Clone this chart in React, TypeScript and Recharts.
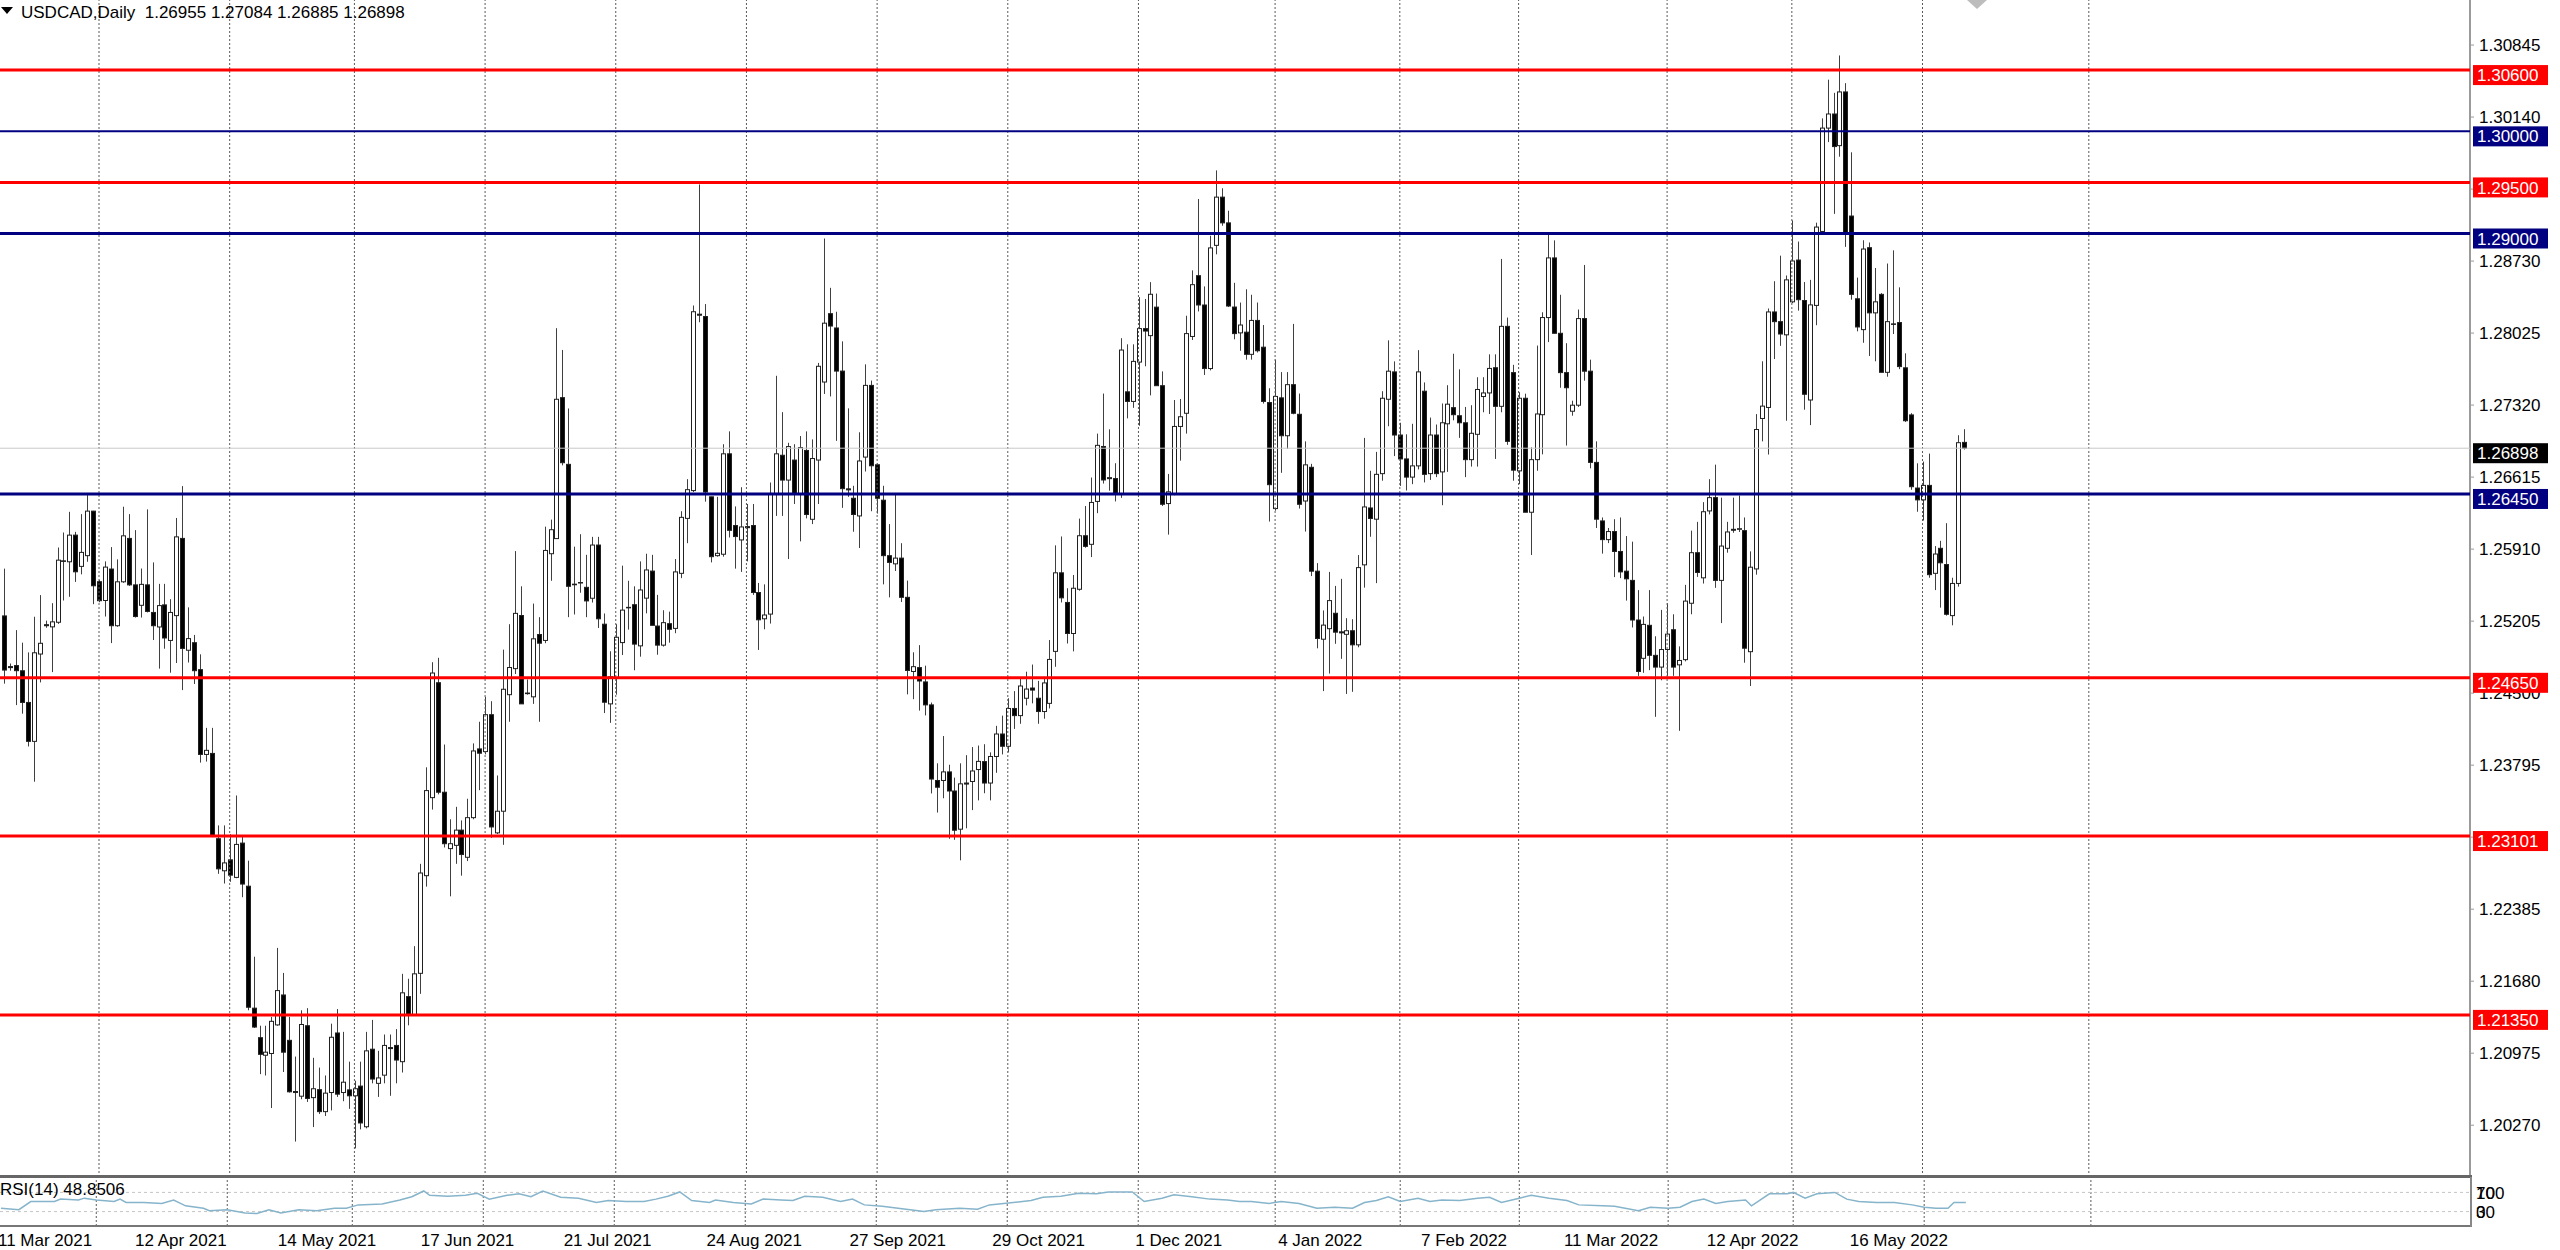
import React from 'react';
import { ComposedChart, Bar, Line, XAxis, YAxis, ReferenceLine } from 'recharts';

// USDCAD daily, bar 0 = 10 Mar 2021 ... bar 330 = 10 Jun 2022
const opens = [
  1.25256, 1.2476, 1.2477, 1.24719, 1.24409, 1.24028, 1.24883, 1.2517, 1.25149, 1.25194,
  1.25795, 1.25786, 1.26047, 1.25741, 1.25846, 1.26282, 1.25591, 1.25407, 1.25715, 1.2516,
  1.2559, 1.26015, 1.2556, 1.2536, 1.2556, 1.2529, 1.25148, 1.25364, 1.25016, 1.25259,
  1.26015, 1.2492, 1.24994, 1.2473, 1.239, 1.2391, 1.23075, 1.22761, 1.22868, 1.22696,
  1.23032, 1.2261, 1.21416, 1.21127, 1.20955, 1.20972, 1.21252, 1.21545, 1.21101, 1.206,
  1.20554, 1.21244, 1.2054, 1.20618, 1.20403, 1.2059, 1.21173, 1.2059, 1.20616, 1.20558,
  1.20653, 1.20255, 1.21014, 1.2068, 1.2076, 1.2103, 1.21051, 1.20892, 1.21529, 1.21354,
  1.21757, 1.22713, 1.23477, 1.24602, 1.2353, 1.22978, 1.2301, 1.23159, 1.22893, 1.23281,
  1.23954, 1.23928, 1.24289, 1.23132, 1.23344, 1.24485, 1.2474, 1.2526, 1.24501, 1.24464,
  1.25074, 1.25016, 1.25865, 1.26013, 1.27393, 1.2674, 1.25567, 1.25578, 1.25536, 1.25429,
  1.2595, 1.25175, 1.24395, 1.2465, 1.24995, 1.2534, 1.25366, 1.24963, 1.2543, 1.25695,
  1.25157, 1.2497, 1.2518, 1.25134, 1.25673, 1.26211, 1.26483, 1.2821, 1.28187, 1.26422,
  1.25846, 1.2586, 1.26843, 1.26141, 1.26, 1.2613, 1.26141, 1.25485, 1.25228, 1.25274,
  1.26455, 1.26829, 1.26586, 1.26782, 1.26445, 1.26876, 1.26202, 1.26782, 1.27546, 1.28215,
  1.28075, 1.27653, 1.265, 1.26408, 1.26235, 1.26811, 1.27513, 1.26736, 1.26389, 1.25846,
  1.25766, 1.25822, 1.25438, 1.24712, 1.2475, 1.2461, 1.24385, 1.23645, 1.23645, 1.23729,
  1.23542, 1.23168, 1.2362, 1.23635, 1.23752, 1.2383, 1.2362, 1.2388, 1.241, 1.2398,
  1.2435, 1.2428, 1.2445, 1.2455, 1.2445, 1.2432, 1.244, 1.24909, 1.25678, 1.25388,
  1.25084, 1.25517, 1.26041, 1.25957, 1.26377, 1.26915, 1.266, 1.26601, 1.26447, 1.2745,
  1.27356, 1.27741, 1.28069, 1.28, 1.28279, 1.2751, 1.26356, 1.26447, 1.27111, 1.2724,
  1.27992, 1.28587, 1.283, 1.27678, 1.28884, 1.29356, 1.29104, 1.2828, 1.28027, 1.28034,
  1.27817, 1.28149, 1.27887, 1.27345, 1.26307, 1.27391, 1.2702, 1.2752, 1.2723, 1.26381,
  1.26711, 1.25694, 1.25028, 1.25131, 1.25282, 1.251, 1.25076, 1.25111, 1.24973, 1.25756,
  1.26313, 1.26203, 1.26649, 1.27377, 1.27645, 1.27027, 1.26793, 1.26615, 1.26725, 1.27456,
  1.26649, 1.27027, 1.26666, 1.27137, 1.27295, 1.27216, 1.27147, 1.26786, 1.27034, 1.27404,
  1.27439, 1.27686, 1.27308, 1.28091, 1.27638, 1.26676, 1.27387, 1.26271, 1.26786, 1.27226,
  1.28177, 1.28761, 1.28023, 1.27638, 1.2726, 1.27319, 1.28167, 1.27652, 1.26759, 1.26186,
  1.26003, 1.26082, 1.25887, 1.25694, 1.25604, 1.25216, 1.24841, 1.25164, 1.2487, 1.24755,
  1.24927, 1.25121, 1.24777, 1.24828, 1.2538, 1.25875, 1.25629, 1.26284, 1.26414, 1.25604,
  1.25918, 1.26104, 1.26104, 1.26091, 1.24906, 1.25716, 1.27189, 1.27297, 1.28232, 1.28137,
  1.28008, 1.28331, 1.2874, 1.28344, 1.2737, 1.28296, 1.2902, 1.30032, 1.3017, 1.2986,
  1.30386, 1.29171, 1.28361, 1.28059, 1.28861, 1.28223, 1.28404, 1.27641, 1.28115, 1.28128,
  1.27685, 1.27224, 1.26508, 1.26392, 1.26534, 1.25673, 1.25918, 1.25759, 1.25259, 1.25574,
  1.26955,
];

const highs = [
  1.25719, 1.2479, 1.25117, 1.24994, 1.24899, 1.25248, 1.2546, 1.2521, 1.25381, 1.25926,
  1.26073, 1.26275, 1.26079, 1.26253, 1.26439, 1.26285, 1.2561, 1.2579, 1.2593, 1.2581,
  1.26325, 1.26253, 1.26096, 1.2572, 1.26299, 1.2578, 1.2557, 1.2557, 1.2542, 1.26215,
  1.26527, 1.2534, 1.2507, 1.2488, 1.2416, 1.2416, 1.23205, 1.23205, 1.23119, 1.23498,
  1.23097, 1.2286, 1.2192, 1.21244, 1.21244, 1.2133, 1.22006, 1.21761, 1.2133, 1.20942,
  1.21395, 1.21416, 1.2093, 1.20834, 1.20757, 1.21264, 1.21407, 1.21184, 1.20892, 1.20706,
  1.20892, 1.21184, 1.21301, 1.20998, 1.21158, 1.21158, 1.21211, 1.21752, 1.21704, 1.22023,
  1.22829, 1.23774, 1.24803, 1.24846, 1.23997, 1.23265, 1.23387, 1.23254, 1.23466, 1.24008,
  1.2422, 1.24464, 1.24421, 1.23694, 1.24926, 1.25175, 1.25891, 1.25546, 1.24634, 1.25377,
  1.25244, 1.2613, 1.26199, 1.28073, 1.2786, 1.27287, 1.25934, 1.26056, 1.25854, 1.2603,
  1.2603, 1.2528, 1.2491, 1.25175, 1.25748, 1.256, 1.25546, 1.2579, 1.25865, 1.25854,
  1.25462, 1.25312, 1.25298, 1.25813, 1.26281, 1.26595, 1.28295, 1.2948, 1.28309, 1.26422,
  1.26422, 1.26937, 1.27063, 1.26328, 1.26516, 1.26352, 1.26352, 1.25579, 1.25565, 1.26562,
  1.27607, 1.27251, 1.26951, 1.26937, 1.27017, 1.27063, 1.26984, 1.27733, 1.28951, 1.28468,
  1.28234, 1.27944, 1.27288, 1.2653, 1.27054, 1.27719, 1.2756, 1.2675, 1.2653, 1.26155,
  1.26455, 1.25968, 1.25602, 1.249, 1.2497, 1.24769, 1.24408, 1.23813, 1.2408, 1.23799,
  1.23673, 1.23813, 1.23893, 1.23972, 1.23987, 1.24, 1.2392, 1.2418, 1.2428, 1.2445,
  1.2452, 1.2465, 1.2471, 1.2478, 1.2462, 1.2466, 1.2502, 1.25947, 1.26034, 1.25527,
  1.25657, 1.26209, 1.26332, 1.26611, 1.27041, 1.27433, 1.27083, 1.26751, 1.27975, 1.27915,
  1.27915, 1.28377, 1.28359, 1.28524, 1.28412, 1.2765, 1.26646, 1.2737, 1.2738, 1.28195,
  1.28639, 1.29338, 1.28482, 1.28978, 1.29618, 1.29443, 1.29223, 1.28517, 1.28324, 1.28454,
  1.284, 1.28324, 1.28104, 1.27485, 1.27765, 1.27643, 1.27643, 1.28115, 1.27433, 1.26965,
  1.26745, 1.25773, 1.2531, 1.25687, 1.2555, 1.25619, 1.25234, 1.25224, 1.25852, 1.26999,
  1.26677, 1.26862, 1.27456, 1.27954, 1.27748, 1.27147, 1.27034, 1.27137, 1.27858, 1.27542,
  1.27198, 1.2713, 1.27336, 1.27515, 1.27823, 1.2767, 1.27302, 1.27319, 1.27593, 1.27593,
  1.27817, 1.27817, 1.28751, 1.28177, 1.27714, 1.27446, 1.27432, 1.26906, 1.27903, 1.28229,
  1.28991, 1.28933, 1.284, 1.27926, 1.27363, 1.28256, 1.28692, 1.27765, 1.26965, 1.2622,
  1.26117, 1.26203, 1.2622, 1.26038, 1.25983, 1.25509, 1.2525, 1.25509, 1.25057, 1.25315,
  1.2538, 1.25272, 1.24958, 1.2556, 1.26091, 1.26177, 1.2637, 1.26595, 1.26737, 1.26414,
  1.26177, 1.26414, 1.26435, 1.2622, 1.25888, 1.27232, 1.27749, 1.28266, 1.28533, 1.28783,
  1.28589, 1.29128, 1.28921, 1.28525, 1.28546, 1.29106, 1.30127, 1.30506, 1.30377, 1.30743,
  1.30472, 1.29795, 1.28568, 1.28934, 1.28912, 1.28662, 1.28417, 1.28706, 1.28835, 1.28473,
  1.27827, 1.27241, 1.2675, 1.26767, 1.26845, 1.2594, 1.25991, 1.26164, 1.2563, 1.27025,
  1.27084,
];

const lows = [
  1.24593, 1.2472, 1.24383, 1.24299, 1.23978, 1.23633, 1.24605, 1.2514, 1.24706, 1.25178,
  1.25407, 1.25443, 1.25589, 1.25663, 1.25786, 1.25371, 1.2539, 1.2525, 1.2499, 1.2515,
  1.2558, 1.2555, 1.2524, 1.2524, 1.2529, 1.2502, 1.2474, 1.24935, 1.247, 1.24795,
  1.2453, 1.248, 1.2459, 1.2382, 1.2383, 1.2309, 1.22731, 1.22636, 1.22653, 1.22688,
  1.22502, 1.21395, 1.21222, 1.2077, 1.20757, 1.20438, 1.21244, 1.20791, 1.2059, 1.2011,
  1.20524, 1.20498, 1.20252, 1.2038, 1.2036, 1.20415, 1.20547, 1.20505, 1.2043, 1.20043,
  1.20229, 1.20239, 1.2068, 1.20547, 1.2068, 1.20558, 1.2068, 1.20786, 1.21248, 1.21343,
  1.21556, 1.22606, 1.2336, 1.23509, 1.22989, 1.22511, 1.22829, 1.22713, 1.22856, 1.23265,
  1.2355, 1.23901, 1.23084, 1.23121, 1.23015, 1.2422, 1.24687, 1.24395, 1.24485, 1.24395,
  1.2422, 1.24989, 1.256, 1.26013, 1.2673, 1.25244, 1.2527, 1.25483, 1.25244, 1.25387,
  1.25138, 1.24305, 1.24209, 1.24485, 1.24873, 1.25122, 1.24724, 1.24857, 1.25281, 1.25164,
  1.24876, 1.24956, 1.24994, 1.25087, 1.25626, 1.25968, 1.26469, 1.28131, 1.26375, 1.2578,
  1.25836, 1.25836, 1.26024, 1.25719, 1.25687, 1.2579, 1.25462, 1.24923, 1.25125, 1.25181,
  1.26235, 1.26235, 1.25813, 1.26352, 1.25986, 1.26211, 1.26155, 1.26352, 1.27429, 1.27405,
  1.2697, 1.26314, 1.26422, 1.2608, 1.25921, 1.2667, 1.26281, 1.26258, 1.25565, 1.25438,
  1.25696, 1.25392, 1.24488, 1.24441, 1.24329, 1.24282, 1.23518, 1.23331, 1.23471, 1.23074,
  1.23064, 1.22863, 1.23177, 1.23355, 1.2345, 1.2352, 1.2345, 1.2372, 1.239, 1.2392,
  1.2415, 1.242, 1.2438, 1.244, 1.242, 1.2425, 1.2435, 1.24758, 1.25388, 1.24986,
  1.24909, 1.25503, 1.25923, 1.25832, 1.26262, 1.26552, 1.26482, 1.26377, 1.26412, 1.2719,
  1.27293, 1.27118, 1.277, 1.27415, 1.2751, 1.26332, 1.26052, 1.26437, 1.26776, 1.27041,
  1.27957, 1.28237, 1.27615, 1.2766, 1.28796, 1.29076, 1.2828, 1.27964, 1.27852, 1.27765,
  1.27765, 1.27835, 1.27335, 1.2618, 1.26286, 1.26657, 1.26891, 1.2723, 1.26307, 1.26082,
  1.25646, 1.24939, 1.2452, 1.24692, 1.24983, 1.24836, 1.24492, 1.24513, 1.24949, 1.25533,
  1.26031, 1.25577, 1.2658, 1.27113, 1.26821, 1.26529, 1.26484, 1.26546, 1.2669, 1.26563,
  1.26587, 1.26615, 1.2634, 1.26666, 1.27171, 1.26999, 1.26615, 1.26718, 1.26718, 1.2725,
  1.27233, 1.26793, 1.2725, 1.26931, 1.2658, 1.26546, 1.26271, 1.25852, 1.26677, 1.26838,
  1.27937, 1.28023, 1.2749, 1.26924, 1.27216, 1.27302, 1.27559, 1.26701, 1.26117, 1.25866,
  1.25969, 1.25636, 1.25626, 1.25406, 1.25143, 1.24669, 1.24699, 1.24725, 1.24268, 1.24626,
  1.24669, 1.24669, 1.24131, 1.24811, 1.25272, 1.25638, 1.25573, 1.2625, 1.25531, 1.25186,
  1.25875, 1.2607, 1.26078, 1.24798, 1.2457, 1.2566, 1.26965, 1.26836, 1.27771, 1.279,
  1.27167, 1.28318, 1.28245, 1.27275, 1.27124, 1.28102, 1.29007, 1.29895, 1.29192, 1.29752,
  1.28869, 1.28352, 1.28042, 1.2793, 1.27801, 1.27749, 1.27641, 1.27598, 1.28016, 1.27672,
  1.27155, 1.26491, 1.26276, 1.2619, 1.2563, 1.25509, 1.25337, 1.25259, 1.25164, 1.25543,
  1.26885,
];

const closes = [
  1.24726, 1.2475, 1.2472, 1.24409, 1.24028, 1.24895, 1.24988, 1.2516, 1.25198, 1.25802,
  1.2579, 1.26047, 1.25688, 1.25878, 1.26282, 1.25551, 1.25405, 1.25734, 1.2516, 1.2559,
  1.2604, 1.2556, 1.2525, 1.25565, 1.253, 1.2516, 1.25357, 1.2504, 1.2529, 1.2603,
  1.24938, 1.25034, 1.2472, 1.239, 1.2394, 1.231, 1.2278, 1.22838, 1.22718, 1.23019,
  1.22631, 1.21425, 1.21231, 1.20964, 1.20985, 1.21287, 1.21588, 1.20985, 1.20597, 1.2059,
  1.21256, 1.20532, 1.20627, 1.20403, 1.20584, 1.21131, 1.20574, 1.20691, 1.20558, 1.20627,
  1.20292, 1.20998, 1.20722, 1.20733, 1.21051, 1.2102, 1.20908, 1.21566, 1.21354, 1.21752,
  1.22739, 1.23546, 1.24697, 1.2353, 1.23026, 1.23026, 1.23159, 1.2292, 1.23281, 1.23934,
  1.23912, 1.24289, 1.2319, 1.23344, 1.24538, 1.24751, 1.25281, 1.24395, 1.24495, 1.25032,
  1.24989, 1.25897, 1.261, 1.27377, 1.26756, 1.25546, 1.25561, 1.25583, 1.25403, 1.2595,
  1.25228, 1.24411, 1.2466, 1.25047, 1.25313, 1.25335, 1.2498, 1.2551, 1.25706, 1.25164,
  1.2497, 1.2519, 1.25125, 1.25687, 1.26221, 1.26492, 1.28234, 1.282, 1.26469, 1.25836,
  1.25869, 1.26843, 1.26094, 1.26033, 1.26127, 1.2612, 1.25485, 1.25218, 1.25265, 1.26455,
  1.26843, 1.26586, 1.26914, 1.26445, 1.26904, 1.26249, 1.26797, 1.277, 1.28122, 1.28094,
  1.27653, 1.26502, 1.2649, 1.26249, 1.26773, 1.27513, 1.26726, 1.26408, 1.25846, 1.2578,
  1.25822, 1.25438, 1.24722, 1.24759, 1.24619, 1.24385, 1.23659, 1.23579, 1.23729, 1.23542,
  1.23158, 1.23612, 1.2361, 1.23738, 1.23832, 1.2362, 1.2388, 1.241, 1.2398, 1.2435,
  1.2428, 1.2457, 1.2454, 1.2453, 1.2432, 1.246, 1.2483, 1.25678, 1.25433, 1.25084,
  1.25527, 1.26041, 1.25937, 1.26367, 1.26926, 1.26587, 1.2661, 1.26454, 1.27859, 1.27356,
  1.27748, 1.28069, 1.28045, 1.28405, 1.2751, 1.26349, 1.26471, 1.27111, 1.27206, 1.2802,
  1.28499, 1.283, 1.27678, 1.28859, 1.29356, 1.29104, 1.2829, 1.2802, 1.28104, 1.27817,
  1.28149, 1.27852, 1.27356, 1.26541, 1.27405, 1.2702, 1.2752, 1.2724, 1.26349, 1.26735,
  1.25694, 1.25035, 1.25166, 1.25406, 1.25097, 1.2509, 1.25111, 1.24973, 1.25729, 1.26323,
  1.2621, 1.26642, 1.27387, 1.27652, 1.27027, 1.26793, 1.26615, 1.26725, 1.27645, 1.26642,
  1.27027, 1.26649, 1.27147, 1.27329, 1.27226, 1.27147, 1.26786, 1.27044, 1.27473, 1.27439,
  1.27679, 1.27308, 1.28091, 1.26965, 1.26683, 1.27387, 1.26271, 1.26786, 1.27233, 1.28177,
  1.28761, 1.28023, 1.27638, 1.2749, 1.27319, 1.28167, 1.27652, 1.26759, 1.26203, 1.26003,
  1.26082, 1.25887, 1.25687, 1.25619, 1.25216, 1.24712, 1.25173, 1.2487, 1.24755, 1.24927,
  1.25078, 1.24755, 1.2482, 1.25401, 1.25875, 1.25681, 1.26276, 1.26414, 1.25604, 1.2594,
  1.26078, 1.26095, 1.2611, 1.2494, 1.25733, 1.27081, 1.2731, 1.28232, 1.28137, 1.28016,
  1.28546, 1.28731, 1.28352, 1.27426, 1.28301, 1.29063, 1.30032, 1.3017, 1.29851, 1.30386,
  1.28999, 1.28404, 1.28085, 1.28848, 1.28223, 1.28331, 1.27641, 1.28137, 1.2811, 1.27697,
  1.27167, 1.26521, 1.26392, 1.26534, 1.2566, 1.25862, 1.25776, 1.25272, 1.25574, 1.26952,
  1.26898,
];

// RSI(14): bar index -> value
const rsiIdx = [
  0, 3, 5, 9, 10, 13, 14, 16, 19, 20, 21, 24, 27, 29, 31, 34, 35, 38, 41, 43,
  45, 47, 50, 53, 56, 58, 60, 64, 67, 69, 71, 72, 75, 78, 80, 82, 85, 87, 89, 91,
  94, 97, 100, 102, 105, 108, 110, 112, 114, 116, 119, 120, 123, 126, 128, 131, 133, 135, 138, 141,
  143, 145, 148, 152, 155, 157, 161, 164, 166, 170, 173, 175, 178, 181, 184, 186, 190, 192, 195, 197,
  200, 203, 206, 208, 210, 213, 215, 218, 221, 224, 227, 229, 231, 233, 235, 238, 240, 242, 245, 248,
  250, 252, 255, 257, 260, 263, 265, 269, 271, 275, 277, 280, 282, 284, 286, 288, 290, 293, 294, 297,
  300, 301, 303, 305, 308, 310, 312, 315, 318, 321, 323, 325, 327, 328, 330,
];
const rsiVal = [
  37, 34, 51, 51, 56, 54, 58, 54, 51, 56, 49, 49, 47, 54, 42, 37, 32, 34, 27, 26,
  34, 27, 34, 32, 37, 37, 44, 46, 54, 61, 73, 64, 62, 64, 68, 56, 64, 67, 61, 73,
  60, 58, 49, 53, 51, 51, 56, 62, 71, 53, 49, 54, 49, 46, 56, 54, 53, 62, 60, 51,
  56, 44, 41, 35, 30, 34, 37, 35, 44, 49, 53, 60, 62, 68, 67, 71, 71, 51, 58, 65,
  61, 56, 54, 51, 51, 47, 51, 47, 37, 39, 37, 49, 53, 61, 51, 58, 51, 54, 53, 58,
  60, 49, 58, 64, 58, 53, 44, 42, 41, 32, 39, 37, 39, 51, 56, 47, 51, 54, 42, 67,
  67, 70, 58, 67, 70, 56, 51, 49, 49, 44, 39, 37, 37, 49, 48.85,
];

const priceTicks = [
  1.30845, 1.3014, 1.29435, 1.2873, 1.28025, 1.2732, 1.26615, 1.2591, 1.25205, 1.245,
  1.23795, 1.2309, 1.22385, 1.2168, 1.20975, 1.2027,
];
const levelPrices = [1.306, 1.3, 1.295, 1.29, 1.2645, 1.2465, 1.23101, 1.2135];
const levelColors = ['#ff0000', '#000080', '#ff0000', '#000080', '#000080', '#ff0000', '#ff0000', '#ff0000'];
const gridIdx = [16, 38, 59, 81, 103, 125, 147, 169, 191, 214, 235, 255, 280, 301, 323, 351];
const dateIdx = [0, 23, 47, 71, 95, 119, 143, 167, 191, 215, 239, 263, 287, 311];
const dateText = [
  '11 Mar 2021', '12 Apr 2021', '14 May 2021', '17 Jun 2021', '21 Jul 2021', '24 Aug 2021',
  '27 Sep 2021', '29 Oct 2021', '1 Dec 2021', '4 Jan 2022', '7 Feb 2022', '11 Mar 2022',
  '12 Apr 2022', '16 May 2022',
];

const SLOTS = 415;
const FONT = '"Liberation Sans", Arial, sans-serif';
const PRICE_DOMAIN: [number, number] = [1.19763, 1.31286];
const last = closes[closes.length - 1];

const priceRows = Array.from({ length: SLOTS }, (_, i) =>
  i < closes.length
    ? { i, range: [lows[i], highs[i]], o: opens[i], h: highs[i], l: lows[i], c: closes[i] }
    : { i, range: null }
);
const rsiRows = Array.from({ length: SLOTS }, (_, i) => {
  const k = rsiIdx.indexOf(i);
  return { i, rsi: k >= 0 ? rsiVal[k] : null };
});

const Candle = (props: any) => {
  const { x, y, width, height, payload } = props;
  if (!payload || payload.o == null) return null;
  const { o, h, l, c } = payload;
  const top = Math.min(y, y + height);
  const span = Math.abs(height);
  const k = h > l ? span / (h - l) : 0;
  const yo = top + (h - o) * k;
  const yc = top + (h - c) * k;
  const cx = Math.round(x + width / 2) + 0.5;
  const bull = c >= o;
  return (
    <g>
      <line x1={cx} x2={cx} y1={top} y2={top + span} stroke="#404040" strokeWidth={1} />
      <rect
        x={cx - 2}
        y={Math.min(yo, yc)}
        width={4}
        height={Math.max(Math.abs(yc - yo), 0.5)}
        fill={bull ? '#ffffff' : '#000000'}
        stroke="#202020"
        strokeWidth={1}
      />
    </g>
  );
};

const priceTag = (text: string, bg: string) => (props: any) => {
  const vb = props.viewBox;
  if (!vb) return null;
  const x0 = vb.x + vb.width + 3;
  return (
    <g>
      <rect x={x0} y={vb.y - 5} width={75} height={20} fill={bg} />
      <text x={x0 + 4} y={vb.y + 5} dy="0.36em" fill="#ffffff" fontSize={17} fontFamily={FONT}>
        {text}
      </text>
    </g>
  );
};

const rsiTag = (texts: string[]) => (props: any) => {
  const vb = props.viewBox;
  if (!vb) return null;
  return (
    <g>
      {texts.map((t) => (
        <text key={t} x={vb.x + vb.width + 6} y={vb.y} dy="0.36em" fill="#000" fontSize={17} fontFamily={FONT}>
          {t}
        </text>
      ))}
    </g>
  );
};

const DateTick = (props: any) => {
  const { x, y, payload } = props;
  const k = dateIdx.indexOf(payload.value);
  if (k < 0) return null;
  return (
    <text x={x - 3} y={y + 20} fill="#000" fontSize={17} fontFamily={FONT}>
      {dateText[k]}
    </text>
  );
};

export default function App() {
  return (
    <div style={{ position: 'absolute', left: 0, top: 0, width: 2560, height: 1250, background: '#fff', overflow: 'hidden' }}>
      {/* candles, price axis, grid */}
      <div style={{ position: 'absolute', left: 0, top: 0 }}>
        <ComposedChart width={2560} height={1177} data={priceRows} margin={{ top: 0, right: 0, bottom: 0, left: 0 }}>
          <XAxis dataKey="i" type="category" hide padding={{ left: 1, right: 4 }} />
          <YAxis
            orientation="right"
            width={90}
            type="number"
            domain={PRICE_DOMAIN}
            allowDataOverflow
            ticks={priceTicks}
            interval={0}
            tickFormatter={(v: number) => v.toFixed(5)}
            tick={{ fill: '#000', fontSize: 17, fontFamily: FONT }}
            tickSize={4}
            tickMargin={5}
            axisLine={{ stroke: '#9a9a9a', strokeWidth: 2 }}
            tickLine={{ stroke: '#9a9a9a' }}
          />
          {gridIdx.map((g) => (
            <ReferenceLine key={g} x={g} stroke="#5a5a5a" strokeDasharray="2 2" />
          ))}
          <Bar dataKey="range" isAnimationActive={false} shape={(p: any) => <Candle {...p} />} />
        </ComposedChart>
      </div>

      {/* horizontal levels and their price tags, drawn on top */}
      <div style={{ position: 'absolute', left: 0, top: 0 }}>
        <ComposedChart width={2560} height={1177} data={priceRows} margin={{ top: 0, right: 90, bottom: 0, left: 0 }}>
          <XAxis dataKey="i" type="category" hide padding={{ left: 1, right: 4 }} />
          <YAxis hide type="number" domain={PRICE_DOMAIN} allowDataOverflow />
          <ReferenceLine y={last} stroke="#c8c8c8" strokeWidth={1} label={priceTag(last.toFixed(5), '#000000')} />
          {levelPrices.map((p, k) => (
            <ReferenceLine
              key={p}
              y={p}
              stroke={levelColors[k]}
              strokeWidth={p === 1.3 ? 2 : 3}
              label={priceTag(p.toFixed(5), levelColors[k])}
            />
          ))}
        </ComposedChart>
      </div>

      {/* RSI panel + date axis */}
      <div style={{ position: 'absolute', left: 0, top: 1177 }}>
        <ComposedChart width={2560} height={73} data={rsiRows} margin={{ top: 1, right: 90, bottom: 0, left: 0 }}>
          <XAxis
            dataKey="i"
            type="category"
            padding={{ left: 1, right: 4 }}
            height={24}
            axisLine={false}
            tickLine={false}
            tickSize={0}
            tickMargin={0}
            ticks={dateIdx}
            interval={0}
            tick={<DateTick />}
          />
          <YAxis hide type="number" domain={[0, 100]} />
          {gridIdx.map((g) => (
            <ReferenceLine key={g} x={g} stroke="#5a5a5a" strokeDasharray="2 2" />
          ))}
          <ReferenceLine y={70} stroke="#c4c4c4" strokeDasharray="3 3" label={rsiTag(['100', '70'])} />
          <ReferenceLine y={30} stroke="#c4c4c4" strokeDasharray="3 3" label={rsiTag(['30', '0'])} />
          <Line
            dataKey="rsi"
            type="linear"
            connectNulls
            dot={false}
            stroke="#86b4cb"
            strokeWidth={1.5}
            isAnimationActive={false}
          />
        </ComposedChart>
      </div>

      {/* panel frames */}
      <div style={{ position: 'absolute', left: 0, top: 1175, width: 2472, height: 3, background: '#666' }} />
      <div style={{ position: 'absolute', left: 0, top: 1225, width: 2472, height: 2, background: '#777' }} />
      <div style={{ position: 'absolute', left: 2470, top: 1177, width: 2, height: 50, background: '#888' }} />

      {/* header */}
      <svg style={{ position: 'absolute', left: 0, top: 0 }} width={2560} height={24}>
        <polygon points="1,7 13,7 7,14" fill="#000" />
        <polygon points="1967,0 1987,0 1977,9" fill="#bdbdbd" />
        <text x={21} y={18} fill="#000" fontSize={17} fontFamily={FONT} style={{ whiteSpace: 'pre' }}>
          USDCAD,Daily  1.26955 1.27084 1.26885 1.26898
        </text>
      </svg>
      <div style={{ position: 'absolute', left: 0, top: 1180, fontSize: 17, fontFamily: FONT, color: '#000' }}>
        RSI(14) 48.8506
      </div>
    </div>
  );
}
